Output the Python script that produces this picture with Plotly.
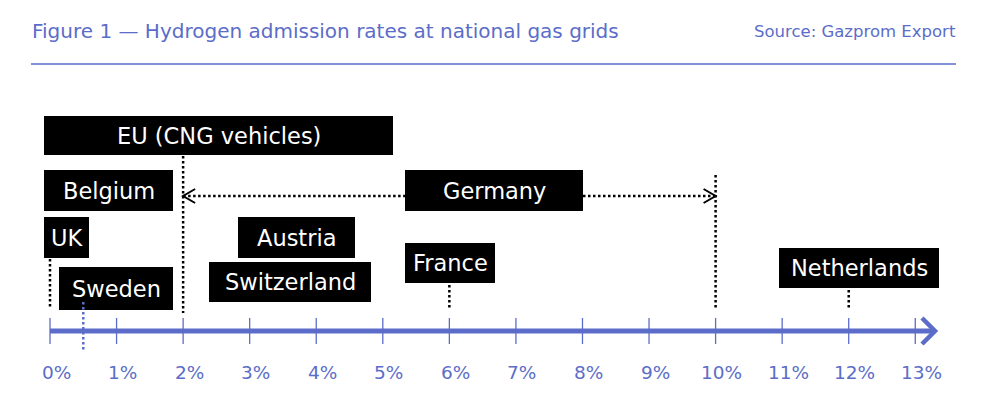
import plotly.graph_objects as go

# ---------------- data ----------------
tick_values = [0, 1, 2, 3, 4, 5, 6, 7, 8, 9, 10, 11, 12, 13]
tick_labels = ["0%", "1%", "2%", "3%", "4%", "5%", "6%", "7%", "8%", "9%",
               "10%", "11%", "12%", "13%"]

countries = ["EU (CNG vehicles)", "Belgium", "Germany", "UK", "Sweden",
             "Austria", "Switzerland", "France", "Netherlands"]
rate_low = [2, None, 2, 0, 0.5, None, None, 6, 12]
rate_high = [2, None, 10, 0, 0.5, None, None, 6, 12]

title_text = "Figure 1 \u2014 Hydrogen admission rates at national gas grids"
source_text = "Source: Gazprom Export"

# ---------------- layout helpers (pixel geometry) ----------------
W, H = 984, 398
PAGE_OFF = 8                              # default body margin of the html page
X0_PX, PX_PER_PCT = 50.0, 66.56          # where 0% sits on screen, px per 1%


def px(xp):
    """convert a horizontal screen pixel position to axis (percent) units"""
    return (xp - X0_PX) / PX_PER_PCT


BLUE = "#5b6dc8"
FONT = "DejaVu Sans"

# label boxes: (left px, right px, top px, bottom px)
boxes = {
    "EU (CNG vehicles)": (44, 393, 116, 155),
    "Belgium": (44, 173, 170, 211),
    "Germany": (405, 583, 170, 211),
    "UK": (44, 89, 217, 258),
    "Sweden": (59, 173, 267, 310),
    "Austria": (238, 355, 217, 258),
    "Switzerland": (209, 371, 262, 302),
    "France": (405, 495, 243, 283),
    "Netherlands": (779, 939, 248, 288),
}
# connector vertical extents (top px, bottom px, colour)
connectors = {
    "EU (CNG vehicles)": (156, 313, "black"),
    "UK": (259, 308, "black"),
    "Sweden": (302, 352, BLUE),
    "France": (285, 310, "black"),
    "Netherlands": (290, 309, "black"),
    "Germany": (175, 308, "black"),
}
AXIS_Y = 331
GER_ARROW_Y = 196

shapes = []
annotations = []

# header
annotations.append(dict(x=px(30), y=31, xref="x", yref="y", text=title_text,
                        showarrow=False, xanchor="left", yanchor="middle",
                        font=dict(family=FONT, size=20, color=BLUE)))
annotations.append(dict(x=px(958), y=31, xref="x", yref="y", text=source_text,
                        showarrow=False, xanchor="right", yanchor="middle",
                        font=dict(family=FONT, size=16.5, color=BLUE)))
shapes.append(dict(type="line", x0=px(31), x1=px(956), y0=64, y1=64,
                   line=dict(color=BLUE, width=1.5)))

# axis line + arrow head
shapes.append(dict(type="line", x0=tick_values[0], x1=px(934), y0=AXIS_Y, y1=AXIS_Y,
                   line=dict(color=BLUE, width=5)))
shapes.append(dict(type="path",
                   path=f"M {px(922)} {AXIS_Y-13} L {px(935)} {AXIS_Y} L {px(922)} {AXIS_Y+13}",
                   line=dict(color=BLUE, width=4.5)))
for tv, tl in zip(tick_values, tick_labels):
    shapes.append(dict(type="line", x0=tv, x1=tv, y0=AXIS_Y - 13, y1=AXIS_Y + 13,
                       line=dict(color=BLUE, width=1.3)))
    annotations.append(dict(x=tv, y=372, xref="x", yref="y", text=tl,
                            showarrow=False, xanchor="center", yanchor="middle",
                            xshift=6, font=dict(family=FONT, size=18.5, color=BLUE)))

DOT = "2.5px,2.5px"
CHEV = px(62) - px(50)

# connectors
for name, lo, hi in zip(countries, rate_low, rate_high):
    if name not in connectors or hi is None:
        continue
    top, bot, col = connectors[name]
    shapes.append(dict(type="line", x0=hi, x1=hi, y0=top, y1=bot,
                       line=dict(color=col, width=2.5, dash=DOT)))
    if name == "Germany":
        bl, br, bt, bb = boxes[name]
        shapes.append(dict(type="line", x0=lo, x1=px(bl), y0=GER_ARROW_Y, y1=GER_ARROW_Y,
                           line=dict(color="black", width=2.5, dash=DOT)))
        shapes.append(dict(type="line", x0=px(br), x1=hi, y0=GER_ARROW_Y, y1=GER_ARROW_Y,
                           line=dict(color="black", width=2.5, dash=DOT)))
        shapes.append(dict(type="path",
                           path=f"M {lo + CHEV} {GER_ARROW_Y-7} L {lo} {GER_ARROW_Y} "
                                f"L {lo + CHEV} {GER_ARROW_Y+7}",
                           line=dict(color="black", width=2)))
        shapes.append(dict(type="path",
                           path=f"M {hi - CHEV} {GER_ARROW_Y-7} L {hi} {GER_ARROW_Y} "
                                f"L {hi - CHEV} {GER_ARROW_Y+7}",
                           line=dict(color="black", width=2)))

# label boxes
box_shapes = []
for name in countries:
    l, r, t, b = boxes[name]
    box_shapes.append(dict(type="rect", x0=px(l), x1=px(r), y0=t, y1=b,
                           fillcolor="black", line=dict(width=0), layer="below"))
    annotations.append(dict(x=px((l + r) / 2), y=(t + b) / 2, xref="x", yref="y",
                            text=name, showarrow=False, xanchor="center",
                            yanchor="middle",
                            font=dict(family=FONT, size=22.5, color="white")))

fig = go.Figure()
fig.update_layout(
    width=W, height=H,
    margin=dict(l=0, r=0, t=0, b=0),
    paper_bgcolor="white", plot_bgcolor="white",
    xaxis=dict(range=[px(PAGE_OFF), px(W + PAGE_OFF)], visible=False, fixedrange=True),
    yaxis=dict(range=[H + PAGE_OFF, PAGE_OFF], visible=False, fixedrange=True),
    shapes=box_shapes + shapes,
    annotations=annotations,
    showlegend=False,
)
fig.write_html("out.html")
